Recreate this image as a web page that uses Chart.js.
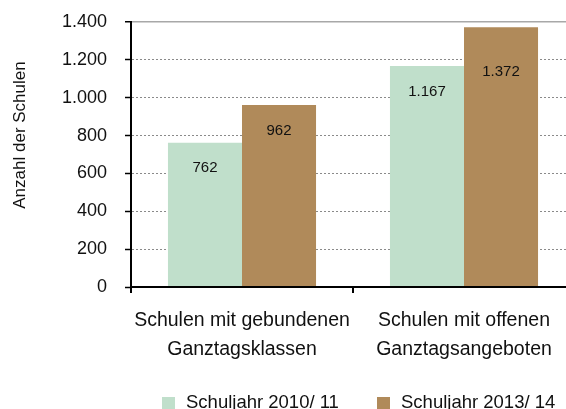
<!DOCTYPE html>
<html><head><meta charset="utf-8">
<script src="https://cdn.jsdelivr.net/npm/chart.js@4"></script>
<style>
html,body{margin:0;padding:0;overflow:hidden;background:#fff;width:566px;height:409px}
#wrap{position:absolute;left:0;top:0;width:575px;height:409px}
</style>
</head><body>
<div id="wrap"><canvas id="c" width="575" height="409"></canvas></div>
<script>
const categories = [['Schulen mit gebundenen','Ganztagsklassen'],['Schulen mit offenen','Ganztagsangeboten']];
const seriesNames = ['Schuljahr 2010/ 11','Schuljahr 2013/ 14'];
const values2010 = [762, 1167];
const values2013 = [962, 1372];
const yTickLabels = ['0','200','400','600','800','1.000','1.200','1.400'];
const yTitle = 'Anzahl der Schulen';

const FONT = "'Liberation Sans', Arial, sans-serif";
const colors = ['#c0dfcb', '#b08a5a'];

function fmt(v){ return String(v).replace(/\B(?=(\d{3})+(?!\d))/g, '.'); }

const dataLabelPlugin = {
  id: 'dataLabels',
  afterDatasetsDraw(chart, args, opts) {
    const ctx = chart.ctx;
    ctx.save();
    ctx.font = '15px ' + FONT;
    ctx.fillStyle = '#111';
    ctx.textAlign = 'center';
    ctx.textBaseline = 'middle';
    chart.data.datasets.forEach((ds, di) => {
      chart.getDatasetMeta(di).data.forEach((el, i) => {
        const drop = opts.drops[di][i];
        ctx.fillText(fmt(ds.data[i]), el.x, el.y + drop);
      });
    });
    ctx.restore();
  }
};

const legendPlugin = {
  id: 'customLegend',
  afterDraw(chart, args, opts) {
    const ctx = chart.ctx;
    ctx.save();
    ctx.font = '18.5px ' + FONT;
    ctx.textBaseline = 'alphabetic';
    ctx.textAlign = 'left';
    chart.data.datasets.forEach((ds, i) => {
      const x = opts.xs[i];
      ctx.fillStyle = ds.backgroundColor;
      ctx.fillRect(x, opts.boxY, opts.box, opts.box);
      ctx.fillStyle = '#111';
      ctx.fillText(ds.label, x + opts.textGap, opts.baseline);
    });
    ctx.restore();
  }
};

const yTitlePlugin = {
  id: 'yTitle',
  afterDraw(chart, args, opts) {
    const ctx = chart.ctx;
    ctx.save();
    ctx.font = '17px ' + FONT;
    ctx.fillStyle = '#111';
    ctx.textAlign = 'center';
    ctx.textBaseline = 'middle';
    ctx.translate(opts.x, opts.y);
    ctx.rotate(-Math.PI / 2);
    ctx.fillText(yTitle, 0, 0);
    ctx.restore();
  }
};

new Chart(document.getElementById('c'), {
  type: 'bar',
  data: {
    labels: categories,
    datasets: [
      { label: seriesNames[0], data: values2010, backgroundColor: colors[0], borderWidth: 0 },
      { label: seriesNames[1], data: values2013, backgroundColor: colors[1], borderWidth: 0 }
    ]
  },
  options: {
    responsive: false,
    animation: false,
    devicePixelRatio: 1,
    layout: { padding: { top: 22, left: 0, right: 0, bottom: 0 } },
    datasets: { bar: { categoryPercentage: 0.667, barPercentage: 1 } },
    plugins: {
      legend: { display: false },
      tooltip: { enabled: false },
      dataLabels: { drops: [[25, 26], [26, 45]] },
      customLegend: { xs: [162, 377], boxY: 397, box: 13, textGap: 24, baseline: 408 },
      yTitle: { x: 20, y: 135 }
    },
    scales: {
      x: {
        afterFit(s) { s.height = 122; s.paddingLeft = 0; s.paddingRight = 0; },
        grid: {
          offset: true, drawOnChartArea: false, drawTicks: true,
          tickLength: 6, tickColor: '#000', tickWidth: 2, lineWidth: 2, color: '#000'
        },
        border: { display: true, color: '#000', width: 2, z: 1 },
        ticks: {
          padding: 13.5, color: '#111', maxRotation: 0, autoSkip: false,
          font: { family: FONT, size: 19.5, lineHeight: 1.487 }
        }
      },
      y: {
        min: 0, max: 1400,
        afterFit(s) { s.width = 131; s.paddingTop = 0; s.paddingBottom = 0; },
        afterBuildTicks(s) {
          s.ticks = yTickLabels.map((_, i) => ({ value: i * 200 }));
        },
        grid: {
          color: c => c.index === yTickLabels.length - 1 ? '#a8a8a8' : '#8a8a8a',
          lineWidth: c => c.index === yTickLabels.length - 1 ? 1.5 : 1,
          tickLength: 6, tickColor: '#000', tickWidth: 1.5
        },
        border: {
          display: true, color: '#000', width: 2, z: 1,
          dash: c => c.index === yTickLabels.length - 1 ? [] : [2, 2]
        },
        ticks: {
          padding: 18, color: '#111',
          font: { family: FONT, size: 18 },
          callback: (v, i) => yTickLabels[i]
        }
      }
    }
  },
  plugins: [dataLabelPlugin, legendPlugin, yTitlePlugin]
});
</script>
</body></html>
